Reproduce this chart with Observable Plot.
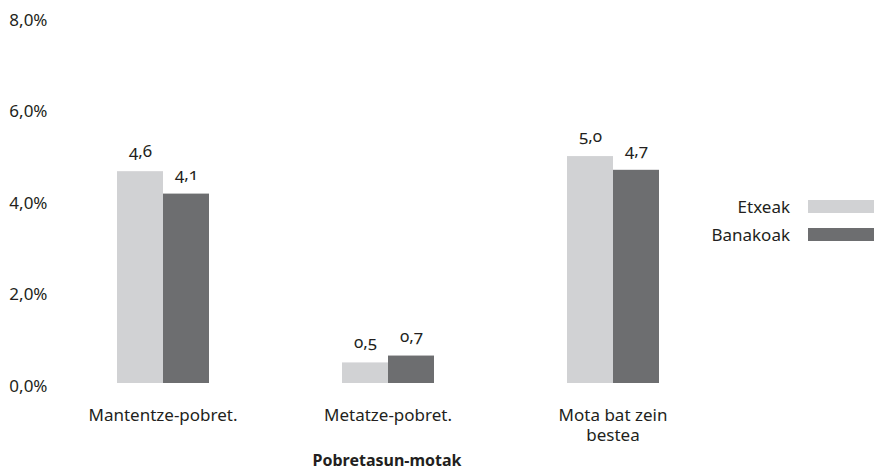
<!DOCTYPE html>
<html><head><meta charset="utf-8">
<script src="https://cdn.jsdelivr.net/npm/d3@7"></script>
<script src="https://cdn.jsdelivr.net/npm/@observablehq/plot@0.6"></script>
<style>
html,body{margin:0;padding:0;background:#fff;}
#wrap{position:relative;width:874px;height:472px;font-family:"Noto Sans",sans-serif;font-variant-numeric:oldstyle-nums;}
#legend{position:absolute;left:700px;top:192px;font-size:17px;color:#231f20;}
.row{display:flex;align-items:center;height:28px;}
.row span{width:90px;text-align:right;margin-right:18px;}
.sw{width:66px;height:13px;}
</style></head>
<body><div id="wrap"></div>
<script>
const categories = ["Mantentze-pobret.", "Metatze-pobret.", "Mota bat zein bestea"];
const categoryLabels = ["Mantentze-pobret.", "Metatze-pobret.", "Mota bat zein\nbestea"];
const series = ["Etxeak", "Banakoak"];
const etxeak = [4.63, 0.45, 4.96];
const banakoak = [4.14, 0.6, 4.66];
const etxeakLabels = ["4,6", "0,5", "5,0"];
const banakoakLabels = ["4,1", "0,7", "4,7"];
const yTicks = [0, 2, 4, 6, 8];
const colors = ["#d1d2d4", "#6d6e70"];
const xTitle = "Pobretasun-motak";

const data = [];
categories.forEach((c, i) => {
  data.push({category: c, series: series[0], value: etxeak[i], label: etxeakLabels[i]});
  data.push({category: c, series: series[1], value: banakoak[i], label: banakoakLabels[i]});
});

const yFormat = d => d.toFixed(1).replace(".", ",") + "%";
const fxFormat = d => categoryLabels[categories.indexOf(d)];
const hasAxisMarks = typeof Plot.axisY === "function" && typeof Plot.axisFx === "function";

const marks = [
  Plot.barY(data, {fx: "category", x: "series", y: "value", fill: "series"}),
  Plot.text(data, {fx: "category", x: "series", y: "value", text: "label", dy: -20, fontSize: 17, fill: "#231f20"})
];
if (hasAxisMarks) {
  marks.push(Plot.axisY({ticks: yTicks, tickFormat: yFormat, tickSize: 0, tickPadding: 3, dy: 3, label: null, fontSize: 17}));
  marks.push(Plot.axisFx({anchor: "bottom", tickSize: 0, tickPadding: 23, tickFormat: fxFormat, lineHeight: 1.18, label: null, fontSize: 17}));
}

const chart = Plot.plot({
  width: 874,
  height: 472,
  marginLeft: 50,
  marginRight: 149,
  marginTop: 17,
  marginBottom: 89,
  style: {fontFamily: '"Noto Sans", sans-serif', fontSize: "17px", color: "#231f20", fontVariantNumeric: "oldstyle-nums"},
  fx: hasAxisMarks
    ? {domain: categories, padding: 0, axis: null}
    : {domain: categories, padding: 0, axis: "bottom", tickSize: 0, tickPadding: 23, tickFormat: fxFormat, label: null},
  x: {domain: series, paddingInner: 0, paddingOuter: 1.394, axis: null},
  y: hasAxisMarks
    ? {domain: [0, 8], axis: null}
    : {domain: [0, 8], ticks: yTicks, tickSize: 0, tickPadding: 3, label: null, tickFormat: yFormat},
  color: {domain: series, range: colors},
  marks
});
const wrap = document.getElementById("wrap");
wrap.appendChild(chart);
chart.style.position = "absolute";
chart.style.left = "0px";
chart.style.top = "0px";

const title = document.createElement("div");
title.textContent = xTitle;
title.style.cssText = "position:absolute;left:287px;width:200px;text-align:center;top:449px;font-weight:bold;font-size:16px;color:#231f20;";
wrap.appendChild(title);

const legend = document.createElement("div");
legend.id = "legend";
series.forEach((s, i) => {
  const row = document.createElement("div");
  row.className = "row";
  const t = document.createElement("span");
  t.textContent = s;
  const sw = document.createElement("div");
  sw.className = "sw";
  sw.style.background = colors[i];
  row.appendChild(t); row.appendChild(sw);
  legend.appendChild(row);
});
wrap.appendChild(legend);
</script></body></html>
